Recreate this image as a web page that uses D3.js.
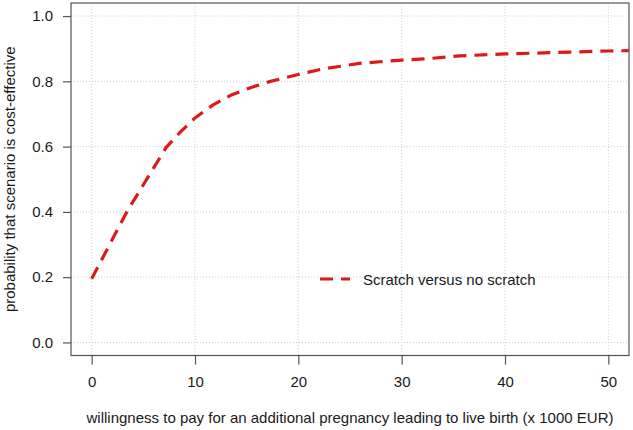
<!DOCTYPE html>
<html>
<head>
<meta charset="utf-8">
<script src="https://cdn.jsdelivr.net/npm/d3@7"></script>
<style>
  html, body { margin: 0; padding: 0; background: #fff; }
  svg { display: block; font-family: "Liberation Sans", Arial, sans-serif; }
</style>
</head>
<body>
<svg id="chart" width="633" height="430"></svg>
<script>
// ---- data ----
const wtp = [0, 3.4, 7.2, 8.5, 10, 11.75, 13.5, 15.5, 17.2, 20, 22.2, 25.9, 27.9, 30, 32.7, 35.6, 40, 44.6, 50, 52];
const probability = [0.195, 0.4, 0.597, 0.642, 0.688, 0.728, 0.758, 0.782, 0.799, 0.821, 0.837, 0.855, 0.860, 0.865, 0.870, 0.878, 0.884, 0.888, 0.893, 0.894];
const xTicks = [0, 10, 20, 30, 40, 50];
const yTicks = [0.0, 0.2, 0.4, 0.6, 0.8, 1.0];
const seriesName = "Scratch versus no scratch";
const xTitle = "willingness to pay for an additional pregnancy leading to live birth (x 1000 EUR)";
const yTitle = "probability that scenario is cost-effective";

// ---- layout ----
const svg = d3.select("#chart");
const pL = 71, pR = 629, pT = 3, pB = 355.5;
const x = d3.scaleLinear().domain([-2, 52]).range([pL, pR]);
const y = d3.scaleLinear().domain([-0.04, 1.04]).range([pB, pT]);
const red = "#dc1a1c";
const axisCol = "#555";
const fs = 15;
const txtCol = "#1a1a1a";

// clip
svg.append("defs").append("clipPath").attr("id", "clip")
  .append("rect").attr("x", pL).attr("y", pT).attr("width", pR - pL).attr("height", pB - pT);

// grid
const grid = svg.append("g");
grid.selectAll("line.vx").data(xTicks).join("line").attr("class", "vx")
  .attr("x1", d => x(d)).attr("x2", d => x(d)).attr("y1", pT).attr("y2", pB)
  .attr("stroke", "#cfcfcf").attr("stroke-width", 1).attr("stroke-dasharray", "1,2");
grid.selectAll("line.hy").data(yTicks).join("line").attr("class", "hy")
  .attr("y1", d => y(d)).attr("y2", d => y(d)).attr("x1", pL).attr("x2", pR)
  .attr("stroke", "#cfcfcf").attr("stroke-width", 1).attr("stroke-dasharray", "1,2");

// line
const line = d3.line().x((d, i) => x(wtp[i])).y(d => y(d));
svg.append("path").datum(probability)
  .attr("clip-path", "url(#clip)")
  .attr("d", line)
  .attr("fill", "none").attr("stroke", red).attr("stroke-width", 3.2)
  .attr("stroke-dasharray", "13,8");

// box
svg.append("rect").attr("x", pL).attr("y", pT).attr("width", pR - pL).attr("height", pB - pT)
  .attr("fill", "none").attr("stroke", axisCol).attr("stroke-width", 1.2);

// axes
const xAxis = d3.axisBottom(x).tickValues(xTicks).tickSize(9).tickPadding(12).tickFormat(d3.format("d"));
const gx = svg.append("g").attr("transform", `translate(0,${pB})`).call(xAxis);
gx.select(".domain").remove();
gx.selectAll("line").attr("stroke", axisCol).attr("stroke-width", 1.2);
gx.selectAll("text").attr("font-size", fs).attr("fill", txtCol).attr("font-family", "Liberation Sans, Arial, sans-serif");

const yAxis = d3.axisLeft(y).tickValues(yTicks).tickSize(8).tickPadding(10).tickFormat(d3.format(".1f"));
const gy = svg.append("g").attr("transform", `translate(${pL},0)`).call(yAxis);
gy.select(".domain").remove();
gy.selectAll("line").attr("stroke", axisCol).attr("stroke-width", 1.2);
gy.selectAll("text").attr("font-size", fs).attr("fill", txtCol).attr("font-family", "Liberation Sans, Arial, sans-serif");

// titles
svg.append("text").attr("x", 350).attr("y", 423)
  .attr("text-anchor", "middle").attr("font-size", fs).attr("fill", txtCol).text(xTitle);
svg.append("text").attr("transform", `translate(15,${(pT + pB) / 2}) rotate(-90)`)
  .attr("text-anchor", "middle").attr("font-size", fs).attr("fill", txtCol).text(yTitle);

// legend
const lg = svg.append("g");
lg.append("line").attr("x1", 320).attr("x2", 350).attr("y1", 279).attr("y2", 279)
  .attr("stroke", red).attr("stroke-width", 3.2).attr("stroke-dasharray", "13,8");
lg.append("text").attr("x", 363).attr("y", 284.5).attr("font-size", fs).attr("fill", txtCol).text(seriesName);
</script>
</body>
</html>
